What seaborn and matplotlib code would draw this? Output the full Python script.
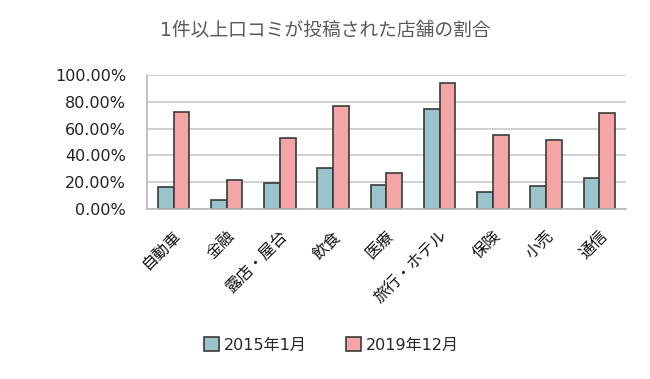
import matplotlib
matplotlib.use('Agg')
import matplotlib.pyplot as plt
import pandas as pd
import seaborn as sns

# Data
categories = ['自動車', '金融', '露店・屋台', '飲食', '医療', '旅行・ホテル', '保険', '小売', '通信']
share_2015 = [16.5, 6.5, 19.1, 30.4, 17.6, 74.4, 12.3, 17.3, 23.1]
share_2019 = [72.2, 21.3, 53.1, 76.7, 26.6, 94.3, 54.9, 51.4, 71.7]
series = ['2015年1月', '2019年12月']
yticks = [0, 20, 40, 60, 80, 100]

df = pd.DataFrame({
    'category': categories * 2,
    'period': [series[0]] * len(categories) + [series[1]] * len(categories),
    'value': share_2015 + share_2019,
})

sns.set_style('white')
plt.rcParams['font.family'] = ['DejaVu Sans', 'Noto Sans CJK JP']

fig = plt.figure(figsize=(6.5, 3.79), dpi=100)
ax = fig.add_axes([0.226, 0.449, 0.737, 0.353])

sns.barplot(data=df, x='category', y='value', hue='period', order=categories,
            hue_order=series, palette=['#9BC3CB', '#F4A6A6'], saturation=1,
            width=0.59, gap=0, edgecolor='#3a3a3a', linewidth=1.2, ax=ax, legend=True)

ax.set_ylim(0, 100)
ax.set_yticks(yticks)
ax.set_yticklabels([f'{v:.2f}%' for v in yticks], fontsize=11.5, color='#222222')
ax.yaxis.grid(True, color='#c8c8c8', linewidth=1.2)
ax.set_axisbelow(True)
ax.set_xlabel('')
ax.set_ylabel('')
ax.tick_params(axis='y', length=0, pad=15)
ax.tick_params(axis='x', length=0, pad=14)
ax.set_xticks(range(len(categories)))
ax.set_xticklabels(categories, rotation=45, ha='right', rotation_mode='anchor',
                   fontsize=11.5, color='#111111')
for side in ['top', 'right']:
    ax.spines[side].set_visible(False)
for side in ['left', 'bottom']:
    ax.spines[side].set_color('#b8b8b8')
    ax.spines[side].set_linewidth(1.2)

handles, labels = ax.get_legend_handles_labels()
ax.get_legend().remove()
fig.legend(handles, labels, loc='center', bbox_to_anchor=(0.51, 0.09), ncol=2,
           frameon=False, fontsize=11.5, handlelength=0.9, handleheight=0.9,
           handletextpad=0.3, columnspacing=2.5)

fig.text(0.5, 0.92, '1件以上口コミが投稿された店舗の割合', ha='center', va='center',
         fontsize=13.5, color='#595959')

fig.savefig('out.png', dpi=100)
